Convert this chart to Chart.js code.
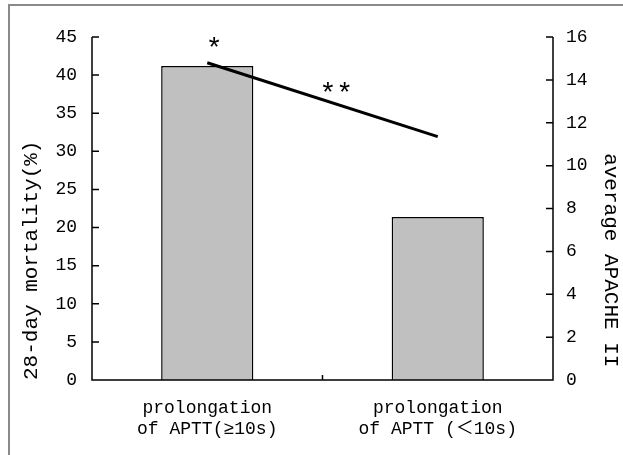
<!DOCTYPE html>
<html>
<head>
<meta charset="utf-8">
<script src="https://cdn.jsdelivr.net/npm/chart.js@4.4.1/dist/chart.umd.min.js"></script>
<style>
    html, body { margin: 0; padding: 0; background: #fff; }
    #wrap { width: 623px; height: 455px; }
</style>
</head>
<body>
<div id="wrap"><canvas id="chart" width="623" height="455"></canvas></div>
<script>
'use strict';

const categories = [
    ['prolongation', 'of APTT(\u226510s)'],
    ['prolongation', 'of APTT (\uFF1C10s)']
];
const mortality = [41.2, 21.4];      // left axis, %
const apache = [14.8, 11.35];        // right axis
// significance marks: [category position, apache value, text]
const markX = [0.03, 0.56];
const markY = [15.4, 13.3];
const markText = ['*', '**'];

const FONT = '"Liberation Mono", "Noto Sans CJK SC", monospace';

// axis lines, inner tick marks, outer frame, asterisks
const extras = {
    id: 'extras',
    beforeDraw(chart) {
        const ctx = chart.ctx;
        ctx.save();
        ctx.fillStyle = '#fff';
        ctx.fillRect(0, 0, chart.width, chart.height);
        ctx.strokeStyle = '#8a8a8a';
        ctx.lineWidth = 2;
        ctx.beginPath();
        ctx.moveTo(9, chart.height);
        ctx.lineTo(9, 5);
        ctx.lineTo(chart.width, 5);
        ctx.stroke();
        ctx.restore();
    },
    afterDraw(chart) {
        const ctx = chart.ctx;
        const a = chart.chartArea;
        const y = chart.scales.y, y1 = chart.scales.y1, x = chart.scales.x;
        ctx.save();
        ctx.strokeStyle = '#000';
        ctx.lineWidth = 1.5;
        ctx.beginPath();
        ctx.moveTo(a.left, a.top);
        ctx.lineTo(a.left, a.bottom);
        ctx.lineTo(a.right, a.bottom);
        ctx.lineTo(a.right, a.top);
        for (const t of y.ticks) {
            const p = y.getPixelForValue(t.value);
            ctx.moveTo(a.left, p);
            ctx.lineTo(a.left + 7, p);
        }
        for (const t of y1.ticks) {
            const p = y1.getPixelForValue(t.value);
            ctx.moveTo(a.right, p);
            ctx.lineTo(a.right - 7, p);
        }
        const mid = x.getPixelForValue(0.5);
        ctx.moveTo(mid, a.bottom);
        ctx.lineTo(mid, a.bottom - 5);
        ctx.stroke();

        ctx.fillStyle = '#000';
        ctx.font = '28px ' + FONT;
        ctx.textAlign = 'center';
        ctx.textBaseline = 'middle';
        for (let i = 0; i < markText.length; i++)
            ctx.fillText(markText[i], x.getPixelForValue(markX[i]), y1.getPixelForValue(markY[i]));
        ctx.restore();
    }
};

Chart.defaults.font.family = FONT;
Chart.defaults.color = '#000';

new Chart(document.getElementById('chart').getContext('2d'), {
    data: {
        labels: categories,
        datasets: [{
            type: 'line',
            data: apache,
            yAxisID: 'y1',
            borderColor: '#000',
            borderWidth: 3,
            pointRadius: 0,
            fill: false,
            order: 0
        }, {
            type: 'bar',
            data: mortality,
            yAxisID: 'y',
            backgroundColor: '#c0c0c0',
            borderColor: '#000',
            borderWidth: 1.5,
            barPercentage: 0.4,
            categoryPercentage: 1,
            order: 1
        }]
    },
    options: {
        responsive: false,
        animation: false,
        events: [],
        layout: { padding: { top: 37, left: 0, right: 0, bottom: 0 } },
        plugins: { legend: { display: false }, tooltip: { enabled: false } },
        scales: {
            x: {
                offset: true,
                grid: { display: false },
                border: { display: false },
                ticks: { font: { size: 18 }, padding: 9, maxRotation: 0 },
                afterFit(s) { s.height = 75; }
            },
            y: {
                position: 'left',
                min: 0, max: 45,
                ticks: { stepSize: 5, font: { size: 18 }, padding: 7 },
                grid: { display: false },
                border: { display: false },
                title: { display: true, text: '28-day mortality(%)', align: 'start', font: { size: 21 }, padding: { top: 19, bottom: 0 } },
                afterFit(s) { s.width = 92; }
            },
            y1: {
                position: 'right',
                min: 0, max: 16,
                ticks: { stepSize: 2, font: { size: 18 }, padding: 5 },
                grid: { display: false },
                border: { display: false },
                title: { display: true, text: 'average APACHE II ', align: 'start', font: { size: 21 }, padding: { top: 0, bottom: 0 } },
                afterFit(s) { s.width = 70; }
            }
        }
    },
    plugins: [extras]
});
</script>
</body>
</html>
